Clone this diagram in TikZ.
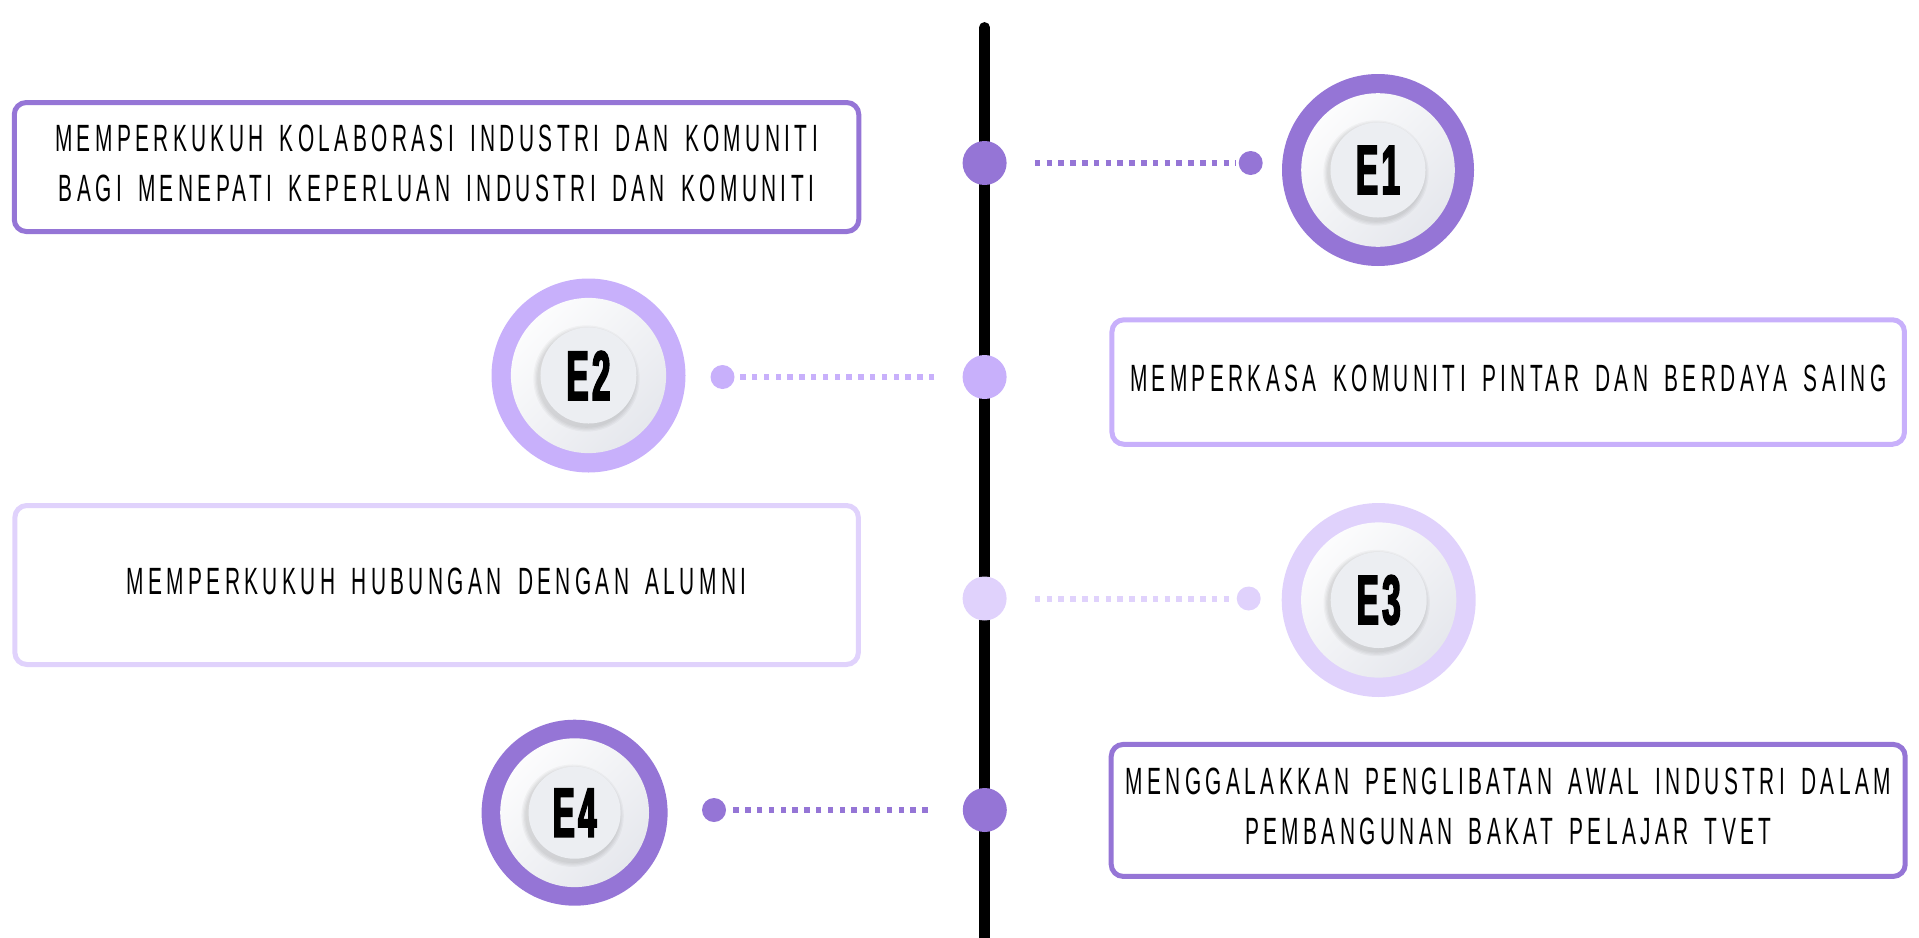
\documentclass[tikz,border=0pt]{standalone}
\usepackage{fontspec}
\newfontfamily\boxfont{Liberation Sans}[FakeStretch=0.55, LetterSpace=11.5, WordSpace=1.6]
\newfontfamily\badgefont{Liberation Sans}[FakeStretch=0.47, LetterSpace=5, FakeBold=2.5]

\definecolor{violetA}{HTML}{9575D6}
\definecolor{violetB}{HTML}{C8B0FB}
\definecolor{violetC}{HTML}{E0D2FC}
\definecolor{discgray}{HTML}{ECEEF2}
\definecolor{ringgray}{HTML}{E3E5EB}

\begin{document}
\begin{tikzpicture}[x=1pt, y=-1pt,
	spine/.style={line width=10.7pt, line cap=round},
	textbox/.style={draw=#1, line width=5pt, rounded corners=12pt, fill=white,
		align=center, text depth=8pt, font=\boxfont\fontsize{38}{50}\selectfont},
	linedot/.style={circle, fill=#1, minimum size=44pt, inner sep=0pt},
	pindot/.style={circle, fill=#1, minimum size=24pt, inner sep=0pt},
	dotlink/.style={draw=#1, line width=6pt, dash pattern=on 5.5pt off 6.3pt,
		shorten <=28pt, shorten >=3pt},
	badge/.style 2 args={circle, fill=#1, minimum size=2*#2, inner sep=0pt,
		font=\badgefont\bfseries\fontsize{70}{70}\selectfont,
		path picture={
			\fill[top color=white, bottom color=ringgray, shading angle=45]
				(path picture bounding box.center) circle (0.8*#2);
			\foreach \k in {1,...,4}
				\fill[black, opacity=0.03] ([xshift=-2pt, yshift=-3pt]path picture bounding box.center) circle (0.495*#2+\k*1.3pt);
			\fill[discgray] (path picture bounding box.center) circle (0.495*#2);
		}}]
	\useasboundingbox (0,0) rectangle (1919,937);

	%\draw[help lines] (0,0) grid[step=100] (1919,937);
	\coordinate (spine top) at (984.6,27.4);
	\coordinate (spine end) at (984.6,945);
	\draw[spine] (spine top) -- (spine end);

	% E1
	\node[textbox=violetA, minimum width=844.5pt, minimum height=129pt] (goal1) at (436.5,167)
		{MEMPERKUKUH KOLABORASI INDUSTRI DAN KOMUNITI\\BAGI MENEPATI KEPERLUAN INDUSTRI DAN KOMUNITI};
	\node[linedot=violetA] (hub1) at (984.6,163) {};
	\node[pindot=violetA] (pin1) at (1250.7,163) {};
	\node[badge={violetA}{96pt}] (E1) at (1378,170) {E1};
	\draw[dotlink=violetA] (hub1) -- (pin1);

	% E2
	\node[textbox=violetB, minimum width=792.5pt, minimum height=124.5pt] (goal2) at (1508.2,382)
		{MEMPERKASA KOMUNITI PINTAR DAN BERDAYA SAING};
	\node[linedot=violetB] (hub2) at (984.6,377) {};
	\node[pindot=violetB] (pin2) at (722.5,377) {};
	\node[badge={violetB}{97pt}] (E2) at (588.5,375.5) {E2};
	\draw[dotlink=violetB] (hub2) -- (pin2);

	% E3
	\node[textbox=violetC, minimum width=843.5pt, minimum height=159pt] (goal3) at (436.6,585)
		{MEMPERKUKUH HUBUNGAN DENGAN ALUMNI};
	\node[linedot=violetC] (hub3) at (984.6,598.5) {};
	\node[pindot=violetC] (pin3) at (1248.7,598.5) {};
	\node[badge={violetC}{97pt}] (E3) at (1378.7,600) {E3};
	\draw[dotlink=violetC] (hub3) -- (pin3);

	% E4
	\node[textbox=violetA, minimum width=794pt, minimum height=132pt] (goal4) at (1508.2,810.4)
		{MENGGALAKKAN PENGLIBATAN AWAL INDUSTRI DALAM\\PEMBANGUNAN BAKAT PELAJAR TVET};
	\node[linedot=violetA] (hub4) at (984.8,810) {};
	\node[pindot=violetA] (pin4) at (714,810) {};
	\node[badge={violetA}{93pt}] (E4) at (574.6,812.7) {E4};
	\draw[dotlink=violetA, shorten <=35pt] (hub4) -- (pin4);
\end{tikzpicture}
\end{document}
